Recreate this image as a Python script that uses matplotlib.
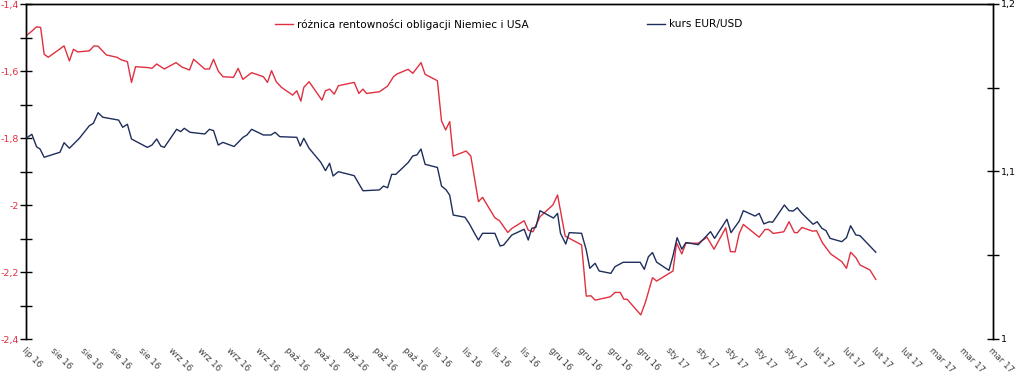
import matplotlib
matplotlib.use("Agg")
import matplotlib.pyplot as plt
from matplotlib.lines import Line2D
from matplotlib.ticker import FixedLocator, FuncFormatter, MultipleLocator

# ---- data (x = trading-day position on the weekly-tick axis) ----
tick_labels = (["lip 16"] + ["sie 16"] * 4 + ["wrz 16"] * 4 + ["paź 16"] * 5 +
               ["lis 16"] * 4 + ["gru 16"] * 4 + ["sty 17"] * 5 + ["lut 17"] * 4 +
               ["mar 17"] * 3)

spread_x = [0, 1.0, 1.8, 2.5, 3.1, 3.8, 6.5, 7.4, 8.1, 8.8, 10.8, 11.6, 12.3, 13.7,
            15.5, 16.3, 17.3, 18.0, 18.7, 20.9, 21.5, 22.3, 23.6, 25.6, 26.6, 27.9,
            28.6, 30.5, 31.3, 32.0, 32.8, 33.6, 35.4, 36.2, 37.0, 38.5, 40.5, 41.2,
            41.9, 42.7, 43.6, 45.5, 46.2, 46.9, 47.4, 48.3, 50.5, 51.1, 51.8, 52.6,
            53.3, 56.0, 56.8, 57.5, 58.1, 60.3, 61.7, 62.7, 63.3, 65.2, 66.0, 67.4,
            68.1, 70.2, 70.9, 71.6, 72.3, 72.9, 75.1, 75.9, 77.2, 77.9, 80.0, 80.8,
            82.2, 82.9, 85.0, 85.7, 86.5, 87.7, 89.9, 90.7, 92.0, 94.8, 95.6, 96.4,
            97.1, 99.7, 100.5, 101.4, 102.0, 102.6, 104.9, 105.7, 106.9, 107.6,
            110.4, 111.0, 111.9, 112.6, 114.7, 116.2, 117.4, 119.4, 120.2, 121.0,
            121.7, 122.4, 125.1, 126.1, 126.7, 127.5, 129.3, 130.2, 131.1, 131.6,
            132.4, 134.2, 134.9, 135.9, 137.3, 139.2, 140.0, 140.7, 141.6, 142.3,
            144.0, 145.0]
spread = [-1.495, -1.481, -1.468, -1.470, -1.550, -1.559, -1.525, -1.570, -1.535,
          -1.543, -1.540, -1.525, -1.526, -1.552, -1.559, -1.567, -1.572, -1.634,
          -1.587, -1.590, -1.592, -1.579, -1.594, -1.575, -1.588, -1.597, -1.565,
          -1.594, -1.594, -1.565, -1.600, -1.617, -1.619, -1.592, -1.625, -1.605,
          -1.617, -1.634, -1.599, -1.632, -1.649, -1.672, -1.659, -1.690, -1.649,
          -1.632, -1.687, -1.659, -1.654, -1.669, -1.644, -1.634, -1.667, -1.654,
          -1.667, -1.662, -1.645, -1.617, -1.609, -1.595, -1.607, -1.575, -1.610,
          -1.629, -1.749, -1.776, -1.751, -1.854, -1.839, -1.854, -1.990, -1.977,
          -2.038, -2.047, -2.082, -2.070, -2.047, -2.075, -2.080, -2.035, -2.000,
          -1.970, -2.093, -2.119, -2.272, -2.271, -2.284, -2.274, -2.261, -2.261,
          -2.281, -2.282, -2.328, -2.290, -2.217, -2.227, -2.197, -2.113, -2.146,
          -2.114, -2.114, -2.096, -2.132, -2.068, -2.139, -2.140, -2.085, -2.058,
          -2.096, -2.073, -2.073, -2.085, -2.080, -2.050, -2.082, -2.083, -2.067,
          -2.078, -2.077, -2.113, -2.146, -2.169, -2.189, -2.141, -2.157, -2.179,
          -2.194, -2.222]

eurusd_x = [0, 1.0, 1.8, 2.4, 3.1, 5.8, 6.5, 7.4, 9.1, 10.8, 11.5, 12.3, 13.1, 15.8,
            16.5, 17.3, 18.0, 20.7, 21.5, 22.3, 23.0, 23.6, 25.7, 26.4, 27.0, 28.0,
            30.5, 31.3, 32.0, 32.8, 33.6, 34.8, 35.5, 37.0, 37.7, 38.5, 40.5, 41.8,
            42.5, 43.3, 46.2, 46.8, 47.4, 48.3, 50.3, 51.1, 51.8, 52.4, 53.3, 56.0,
            57.5, 60.3, 61.0, 61.7, 62.4, 63.1, 65.2, 66.0, 66.7, 67.4, 68.1, 70.2,
            70.9, 71.7, 72.3, 72.9, 74.9, 75.6, 76.6, 77.2, 77.9, 80.0, 80.9, 81.5,
            82.9, 85.0, 85.7, 86.3, 87.0, 87.7, 90.0, 90.7, 91.2, 92.1, 92.7, 94.8,
            95.6, 96.2, 97.1, 97.8, 99.8, 100.5, 101.9, 104.8, 105.5, 106.2, 106.9,
            107.6, 109.7, 110.4, 111.1, 111.9, 112.6, 114.7, 116.0, 116.8, 117.5,
            119.6, 120.3, 121.7, 122.4, 124.4, 125.1, 125.9, 126.8, 127.4, 129.4,
            130.2, 130.9, 131.6, 132.4, 134.3, 135.0, 135.8, 136.5, 137.2, 139.2,
            140.0, 140.7, 141.6, 142.3, 145.0]
eurusd = [1.1198, 1.1222, 1.1148, 1.1134, 1.1085, 1.1115, 1.1172, 1.1139, 1.1198,
          1.1273, 1.1288, 1.1351, 1.1324, 1.1307, 1.1264, 1.1282, 1.1194, 1.1144,
          1.1158, 1.1194, 1.1152, 1.1144, 1.1252, 1.1238, 1.1258, 1.1234, 1.1224,
          1.1252, 1.1244, 1.1158, 1.1174, 1.1158, 1.1149, 1.1203, 1.1218, 1.1252,
          1.1218, 1.1218, 1.1234, 1.1208, 1.1204, 1.1152, 1.1198, 1.1139, 1.1055,
          1.1005, 1.1049, 1.0973, 1.0999, 1.0975, 1.0885, 1.0890, 1.0913, 1.0903,
          1.0983, 1.0983, 1.1053, 1.1093, 1.1099, 1.1134, 1.1043, 1.1024, 1.0913,
          1.0890, 1.0858, 1.0740, 1.0727, 1.0691, 1.0627, 1.0591, 1.0631, 1.0631,
          1.0555, 1.0561, 1.0621, 1.0655, 1.0591, 1.0661, 1.0667, 1.0766, 1.0722,
          1.0750, 1.0631, 1.0567, 1.0635, 1.0631, 1.0531, 1.0422, 1.0452, 1.0406,
          1.0392, 1.0432, 1.0458, 1.0458, 1.0416, 1.0491, 1.0516, 1.0459, 1.0410,
          1.0497, 1.0605, 1.0536, 1.0576, 1.0563, 1.0611, 1.0641, 1.0601, 1.0715,
          1.0635, 1.0704, 1.0766, 1.0734, 1.0750, 1.0687, 1.0700, 1.0697, 1.0800,
          1.0766, 1.0764, 1.0784, 1.0750, 1.0685, 1.0700, 1.0661, 1.0647, 1.0601,
          1.0581, 1.0605, 1.0676, 1.0621, 1.0617, 1.0518]

RED = "#E03040"
BLUE = "#1F2D5C"

fig = plt.figure(figsize=(10.21, 3.79), dpi=100)
ax = fig.add_axes([26 / 1021, 1 - 339 / 379, (993 - 26) / 1021, 335 / 379])
ax2 = ax.twinx()

ax.plot(spread_x, spread, color=RED, lw=1.0, zorder=3)
ax2.plot(eurusd_x, eurusd, color=BLUE, lw=1.0, zorder=3)

n_ticks = len(tick_labels)
step = 5
ax.set_xlim(0, (n_ticks - 1) * step)
ax.set_ylim(-2.4, -1.4)
ax2.set_ylim(1.0, 1.2)

fmt = FuncFormatter(lambda v, p: (f"{v:.1f}".rstrip("0").rstrip(".")).replace(".", ",")
                    if abs(v - round(v)) > 1e-9 else str(int(round(v))))
ax.yaxis.set_major_locator(MultipleLocator(0.2))
ax.yaxis.set_minor_locator(MultipleLocator(0.1))
ax.yaxis.set_major_formatter(fmt)
ax2.yaxis.set_major_locator(MultipleLocator(0.1))
ax2.yaxis.set_minor_locator(MultipleLocator(0.05))
ax2.yaxis.set_major_formatter(fmt)

ax.tick_params(axis="y", which="both", direction="inout", length=8, width=1,
               labelsize=6.8, labelcolor=RED, pad=1)
ax2.tick_params(axis="y", which="both", direction="inout", length=8, width=1,
                labelsize=6.8, labelcolor="#000000", pad=2)

ax.xaxis.set_major_locator(FixedLocator([i * step for i in range(n_ticks)]))
ax.set_xticklabels(tick_labels, rotation=-45, ha="left", va="top",
                   rotation_mode="anchor", fontsize=6.3, color="#404040")
ax.tick_params(axis="x", length=0, pad=5)

for a in (ax, ax2):
    a.spines["bottom"].set_visible(False)
    a.spines["top"].set_visible(True)
    for s in ("left", "right", "top"):
        a.spines[s].set_linewidth(1.0)
        a.spines[s].set_color("black")
ax.patch.set_visible(False)

# legend
ly = 1 - 24 / 379
fig.add_artist(Line2D([275 / 1021, 293 / 1021], [ly, ly], color=RED, lw=1.0))
fig.text(297 / 1021, ly, "różnica rentowności obligacji Niemiec i USA",
         fontsize=7.6, va="center", ha="left", color="#000000")
fig.add_artist(Line2D([647 / 1021, 665 / 1021], [ly, ly], color=BLUE, lw=1.0))
fig.text(669 / 1021, ly, "kurs EUR/USD", fontsize=7.6, va="center", ha="left",
         color="#000000")

fig.savefig("out.png", dpi=100)
